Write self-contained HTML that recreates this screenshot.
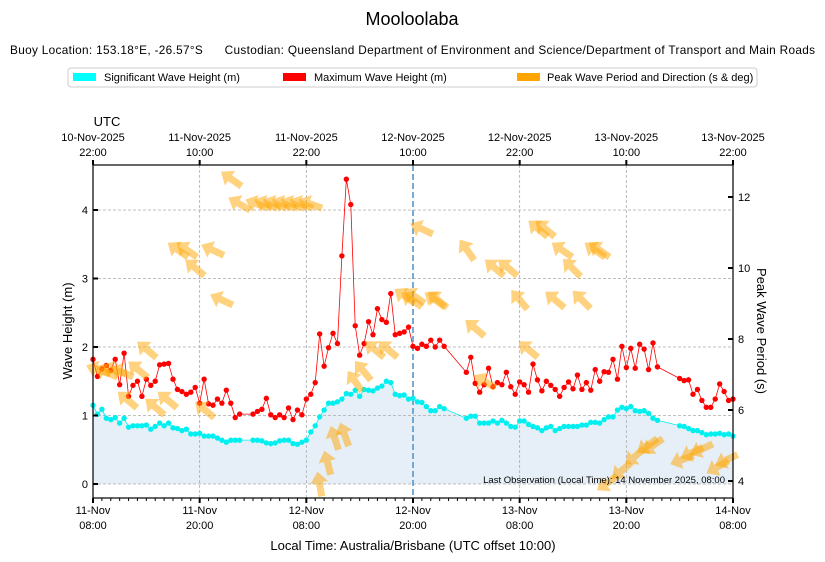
<!DOCTYPE html>
<html><head><meta charset="utf-8"><style>
body{margin:0;background:#fff;}
svg{display:block;font-family:"Liberation Sans","DejaVu Sans",sans-serif;}
</style></head><body>
<svg id="chart" width="825" height="562" viewBox="0 0 825 562">
<text x="412" y="25" text-anchor="middle" font-size="18">Mooloolaba</text>
<text x="10" y="54" font-size="11.8" textLength="805" lengthAdjust="spacing" style="white-space:pre">Buoy Location: 153.18°E, -26.57°S      Custodian: Queensland Department of Environment and Science/Department of Transport and Main Roads</text>
<g>
<rect x="68" y="68" width="689" height="19" rx="3" fill="#fff" stroke="#ccc"/>
<g><rect x="73" y="73" width="23" height="8" fill="#00ffff"/><text x="104" y="81" font-size="11">Significant Wave Height (m)</text></g>
<g><rect x="283" y="73" width="23" height="8" fill="#ff0000"/><text x="314" y="81" font-size="11">Maximum Wave Height (m)</text></g>
<g><rect x="517" y="73" width="23" height="8" fill="#ffa500"/><text x="547" y="81" font-size="11">Peak Wave Period and Direction (s &amp; deg)</text></g>
</g>
<text x="107" y="126" text-anchor="middle" font-size="13">UTC</text>
<g id="plot"></g>
<text x="413" y="550" text-anchor="middle" font-size="13">Local Time: Australia/Brisbane (UTC offset 10:00)</text>
<text transform="translate(72,331) rotate(-90)" text-anchor="middle" font-size="13">Wave Height (m)</text>
<text transform="translate(757,331) rotate(90)" text-anchor="middle" font-size="13">Peak Wave Period (s)</text>
</svg>
<script>
const hsTimes=[0,0.5,1,1.5,2,2.5,3,3.5,4,4.5,5,5.5,6,6.5,7,7.5,8,8.5,9,9.5,10,10.5,11,11.5,12,12.5,13,13.5,14,14.5,15,15.5,16,16.5,
18,18.5,19,19.5,20,20.5,21,21.5,22,22.5,23,23.5,24,24.5,25,25.5,26,26.5,27,27.5,28,28.5,29,29.5,30,30.5,31,31.5,32,32.5,33,33.5,34,34.5,35,35.5,36,36.5,37,37.5,38,38.5,39,39.5,
42,42.5,43,43.5,44,44.5,45,45.5,46,46.5,47,47.5,48,48.5,49,49.5,50,50.5,51,51.5,52,52.5,53,53.5,54,54.5,55,55.5,56,56.5,57,57.5,58,58.5,59,59.5,60,60.5,61,61.5,62,62.5,63,63.5,
66,66.5,67,67.5,68,68.5,69,69.5,70,70.5,71,71.5,72];
const hsValues=[1.15,1.02,1.09,0.96,0.94,0.97,0.89,0.96,0.83,0.85,0.85,0.85,0.86,0.80,0.84,0.89,0.85,0.89,0.82,0.81,0.78,0.80,0.73,0.73,0.74,0.70,0.70,0.70,0.67,0.64,0.61,0.64,0.64,0.64,
0.64,0.64,0.63,0.60,0.59,0.60,0.63,0.64,0.64,0.59,0.58,0.61,0.64,0.76,0.85,0.98,1.08,1.18,1.18,1.20,1.24,1.32,1.31,1.37,1.28,1.38,1.37,1.36,1.40,1.43,1.50,1.48,1.31,1.29,1.30,1.24,1.25,1.20,1.19,1.13,1.07,1.07,1.13,1.10,
0.96,0.99,0.99,0.89,0.89,0.89,0.92,0.89,0.93,0.89,0.84,0.83,0.92,0.92,0.87,0.84,0.82,0.78,0.82,0.84,0.78,0.81,0.84,0.84,0.84,0.84,0.86,0.86,0.90,0.90,0.89,0.94,0.98,0.98,1.08,1.12,1.10,1.13,1.07,1.06,1.07,1.03,0.96,0.93,
0.85,0.84,0.81,0.78,0.78,0.75,0.72,0.73,0.73,0.74,0.72,0.73,0.70];
const hmaxValues=[1.82,1.57,1.68,1.73,1.66,1.82,1.45,1.91,1.28,1.44,1.50,1.28,1.53,1.44,1.50,1.74,1.75,1.76,1.53,1.38,1.35,1.31,1.34,1.41,1.18,1.53,1.17,1.15,1.24,1.18,1.37,1.18,0.97,1.02,
1.02,1.06,1.09,1.25,1.01,0.97,1.01,0.97,1.11,0.94,1.08,1.01,1.24,1.31,1.48,2.19,1.72,1.99,2.20,2.05,3.33,4.45,4.08,2.31,1.88,2.05,2.37,2.18,2.56,2.40,2.36,2.78,2.18,2.20,2.22,2.29,2.01,1.98,2.04,2.01,2.10,2.00,2.10,2.01,
1.63,1.85,1.47,1.34,1.45,1.69,1.42,1.48,1.45,1.63,1.42,1.31,1.49,1.45,1.34,1.75,1.52,1.36,1.50,1.44,1.38,1.28,1.41,1.49,1.39,1.59,1.38,1.48,1.37,1.67,1.50,1.64,1.63,1.82,1.53,2.01,1.70,1.98,1.69,2.04,1.97,1.67,2.06,1.71,
1.54,1.51,1.52,1.31,1.38,1.22,1.12,1.12,1.24,1.46,1.35,1.22,1.24];
const arrowTimes=[0.6,1.5,2.4,3.3,3.9,5.1,6.1,7.0,8.4,9.6,10.6,11.5,13.5,14.5,12.6,15.6,16.5,18.5,19.5,20.5,21.5,22.5,23.5,24.5,25.5,26.4,27.2,28.3,29.5,30.4,31.7,33.2,35.1,35.9,36.2,37.0,38.5,38.8,42.1,43.0,44.1,45.2,46.7,48.0,49.0,50.1,50.9,52.0,52.8,53.9,55.0,56.5,57.0,57.9,59.5,61.0,62.4,63.0,66.3,67.4,68.5,70.3,71.3];
const arrowPeriods=[7.13,7.07,7.13,7.07,6.28,7.13,7.69,6.08,6.28,10.5,10.5,10.0,10.5,9.1,6.0,12.5,11.8,11.8,11.8,11.8,11.8,11.8,11.8,11.8,3.9,4.5,5.2,5.3,6.8,7.1,7.7,7.7,9.2,9.1,9.2,11.1,9.1,9.1,10.5,8.3,6.8,10.0,10.0,9.1,7.7,11.1,11.1,9.1,10.5,10.0,9.1,10.5,10.5,3.95,4.3,4.7,5.0,5.0,4.6,4.8,4.9,4.4,4.6];
const arrowDirs=[160,155,160,155,140,140,140,140,140,145,145,140,155,155,140,145,150,160,160,160,160,160,160,160,100,105,108,110,125,130,140,140,145,145,145,155,145,140,125,140,150,140,140,130,140,140,140,140,145,135,135,145,145,215,220,220,215,215,200,205,205,210,205];
const xTickLabelsBottom=[["11-Nov","08:00"],["11-Nov","20:00"],["12-Nov","08:00"],["12-Nov","20:00"],["13-Nov","08:00"],["13-Nov","20:00"],["14-Nov","08:00"]];
const xTickLabelsTop=[["10-Nov-2025","22:00"],["11-Nov-2025","10:00"],["11-Nov-2025","22:00"],["12-Nov-2025","10:00"],["12-Nov-2025","22:00"],["13-Nov-2025","10:00"],["13-Nov-2025","22:00"]];
const leftTicks=[0,1,2,3,4];
const rightTicks=[4,6,8,10,12];

const NS="http://www.w3.org/2000/svg";
const L=93,R=733,T=165,B=498;
const xs=t=>L+t*(R-L)/72;
const yl=h=>484-h*68.5;
const yr=p=>197+(12-p)*35.5;
const g=document.getElementById('plot');
function mk(tag,attrs,parent){const e=document.createElementNS(NS,tag);for(const k in attrs)e.setAttribute(k,attrs[k]);(parent||g).appendChild(e);return e;}

let fp='M'+xs(hsTimes[0])+','+yl(0);
hsTimes.forEach((t,i)=>fp+=' L'+xs(t)+','+yl(hsValues[i]));
fp+=' L'+xs(hsTimes[hsTimes.length-1])+','+yl(0)+' Z';
const fill=mk('path',{d:fp,fill:'#e6eff7'});



const grid=mk('g',{stroke:'#aaa','stroke-dasharray':'3,2','stroke-width':0.8});


leftTicks.forEach(v=>mk('line',{x1:L,x2:R,y1:yl(v),y2:yl(v)},grid));
for(let i=1;i<6;i++){if(i===3)continue;mk('line',{x1:xs(i*12),x2:xs(i*12),y1:T,y2:B},grid);}

const lo=mk('line',{x1:xs(36),x2:xs(36),y1:T,y2:B,stroke:'#4a90c8','stroke-width':1.5,'stroke-dasharray':'6,3'});



function series(vals,color,name,r){
  const grp=mk('g',{});
  
  
  mk('polyline',{points:hsTimes.map((t,i)=>xs(t)+','+yl(vals[i])).join(' '),fill:'none',stroke:color,'stroke-width':0.8},grp);
  hsTimes.forEach((t,i)=>{const c=mk('circle',{cx:xs(t),cy:yl(vals[i]),r:r,fill:color},grp);
    
    });
}
series(hsValues,'#00f0f0','hs-series',2.7);
series(hmaxValues,'#ff0000','hmax-series',2.7);

const ag=mk('g',{fill:'#ffa500','fill-opacity':0.5});


arrowTimes.forEach((t,i)=>{
  const a=mk('path',{d:'M-12,-3.5 L2,-3.5 L2,-9 L13,0 L2,9 L2,3.5 L-12,3.5 Z',transform:'translate('+xs(t)+','+yr(arrowPeriods[i])+') rotate('+(-arrowDirs[i])+')'},ag);
  
  
});

const fr=mk('rect',{x:L,y:T,width:R-L,height:B-T,fill:'none',stroke:'#000','stroke-width':1.2});



const tg=mk('g',{stroke:'#000'});


for(let h=0;h<=72;h++){const x=xs(h);const major=h%12===0;
  mk('line',{x1:x,x2:x,y1:B,y2:B+(major?5:3),'stroke-width':major?2:1},tg);
  if(major)mk('line',{x1:x,x2:x,y1:T,y2:T-5,'stroke-width':2},tg);}
leftTicks.forEach(v=>{mk('line',{x1:L,x2:L+5,y1:yl(v),y2:yl(v),'stroke-width':2},tg);
  const tx=mk('text',{x:L-5,y:yl(v)+4,'text-anchor':'end','font-size':11,stroke:'none'});tx.textContent=v;
  
  });
rightTicks.forEach(v=>{mk('line',{x1:R-5,x2:R,y1:yr(v),y2:yr(v),'stroke-width':2},tg);
  const tx=mk('text',{x:R+5,y:yr(v)+4,'font-size':11,stroke:'none'});tx.textContent=v;
  
  });
xTickLabelsBottom.forEach((lb,i)=>{const x=xs(i*12);
  const t1=mk('text',{x:x,y:514,'text-anchor':'middle','font-size':11});t1.textContent=lb[0];
  
  
  const t2=mk('text',{x:x,y:529,'text-anchor':'middle','font-size':11});t2.textContent=lb[1];
  
  });
xTickLabelsTop.forEach((lb,i)=>{const x=xs(i*12);
  const t1=mk('text',{x:x,y:141,'text-anchor':'middle','font-size':11});t1.textContent=lb[0];
  
  
  const t2=mk('text',{x:x,y:156,'text-anchor':'middle','font-size':11});t2.textContent=lb[1];
  
  });
const note=mk('text',{x:R-8,y:483,'text-anchor':'end','font-size':9.5});
note.textContent='Last Observation (Local Time): 14 November 2025, 08:00';


</script>
</body></html>
